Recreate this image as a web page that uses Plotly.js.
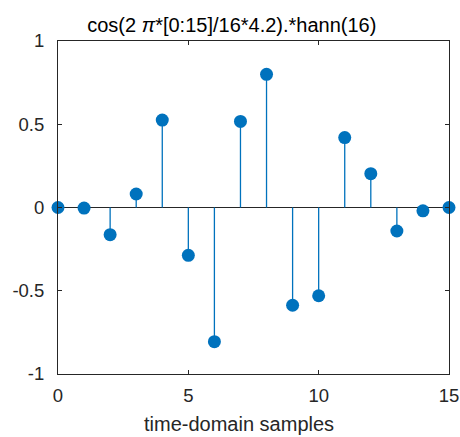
<!DOCTYPE html>
<html>
<head>
<meta charset="utf-8">
<script src="https://cdn.plot.ly/plotly-3.0.1.min.js"></script>
<style>html,body{margin:0;padding:0;background:#fff;}#plot{width:460px;height:437px;}</style>
</head>
<body>
<div id="plot"></div>
<script>
const samples = [0,1,2,3,4,5,6,7,8,9,10,11,12,13,14,15];
const values = [0, -0.0034, -0.163, 0.081, 0.525, -0.287, -0.806, 0.517, 0.800, -0.587, -0.530, 0.420, 0.203, -0.141, -0.020, 0];
const xTicks = [0,5,10,15];
const yTicks = [-1,-0.5,0,0.5,1];
const yTickText = ['-1','-0.5','0','0.5','1'];
const titleText = 'cos(2 <i>\u03C0</i>*[0:15]/16*4.2).*hann(16)';
const xLabel = 'time-domain samples';

const blue = '#0072BD';
const dark = '#262626';

const stemX = [], stemY = [];
samples.forEach((s, i) => { stemX.push(s, s, null); stemY.push(0, values[i], null); });

const traces = [
  {x: stemX, y: stemY, mode: 'lines', line: {color: blue, width: 1.3}, hoverinfo: 'skip', showlegend: false, cliponaxis: false},
  {x: samples, y: values, mode: 'markers', marker: {color: blue, size: 13}, showlegend: false, cliponaxis: false}
];

const fam = 'Liberation Sans, Arial, sans-serif';
const font = {family: fam, size: 18.5, color: dark};
const layout = {
  width: 460, height: 437,
  margin: {l: 58, r: 11, t: 41, b: 63},
  paper_bgcolor: '#fff', plot_bgcolor: '#fff',
  font: font,
  showlegend: false,
  title: {text: titleText, font: {family: fam, size: 20, color: '#000'}, xref: 'container', x: 0.504, xanchor: 'center', yref: 'container', y: 1 - 25/437, yanchor: 'middle'},
  xaxis: {range: [0, 15], tickvals: xTicks, ticktext: xTicks.map(String), ticks: 'inside', ticklen: 4, tickcolor: dark,
          showline: true, linecolor: dark, linewidth: 1, mirror: 'ticks', showgrid: false, zeroline: false,
          tickfont: font, ticklabelstandoff: 5},
  yaxis: {range: [-1, 1], tickvals: yTicks, ticktext: yTickText, ticks: 'inside', ticklen: 4, tickcolor: dark,
          showline: true, linecolor: dark, linewidth: 1, mirror: 'ticks', showgrid: false,
          zeroline: true, zerolinecolor: dark, zerolinewidth: 1, tickfont: font, ticklabelstandoff: 9},
  annotations: [{text: xLabel, xref: 'paper', yref: 'paper', x: (239-58)/391, y: -(424-374)/333, xanchor: 'center', yanchor: 'middle', showarrow: false, font: {family: fam, size: 20, color: dark}}]
};

Plotly.newPlot('plot', traces, layout, {displayModeBar: false, staticPlot: true});
</script>
</body>
</html>
